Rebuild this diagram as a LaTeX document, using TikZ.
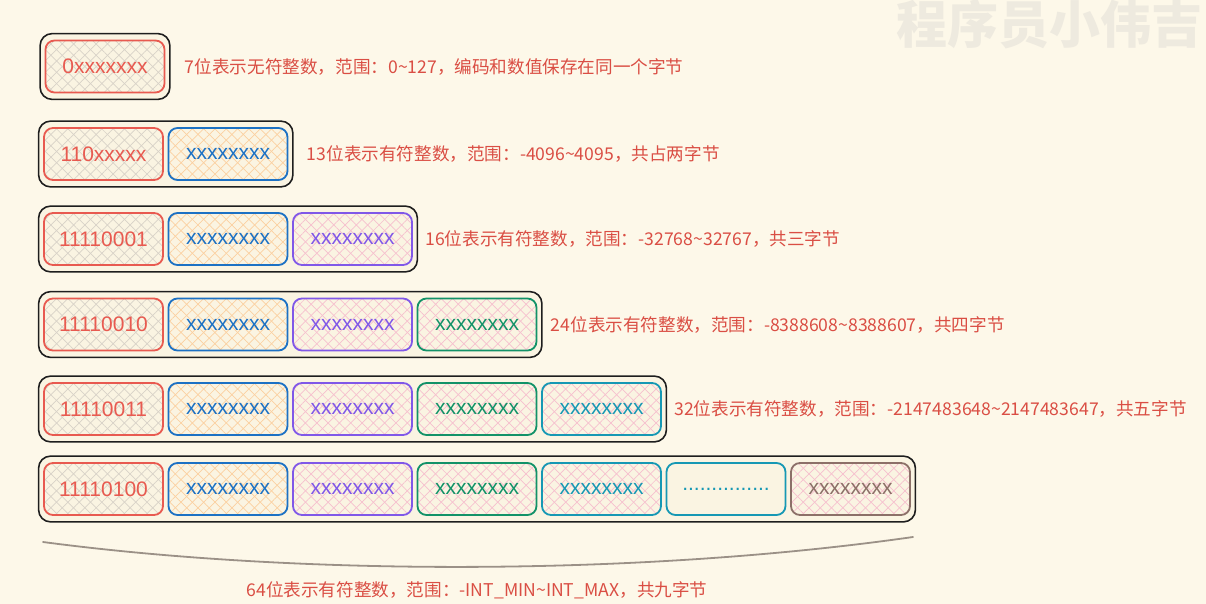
\documentclass[tikz,border=0pt]{standalone}
\usepackage{fontspec}
\setmainfont{Liberation Sans}
\newfontfamily\cjk{Noto Sans CJK SC}
\usepackage{tikz}
\usetikzlibrary{positioning, fit, backgrounds, patterns.meta}
\definecolor{paper}{RGB}{253,248,233}
\definecolor{shellfill}{RGB}{250,244,226}
\definecolor{base03}{RGB}{30,30,30}
\definecolor{red}{RGB}{232,90,80}
\definecolor{blue}{RGB}{28,113,196}
\definecolor{violet}{RGB}{128,88,232}
\definecolor{green}{RGB}{18,146,104}
\definecolor{cyan}{RGB}{22,152,180}
\definecolor{brown}{RGB}{140,112,104}
\definecolor{notered}{RGB}{218,78,68}
\definecolor{hgrey}{RGB}{216,210,200}
\definecolor{horange}{RGB}{250,208,160}
\definecolor{hpink}{RGB}{246,192,206}
\definecolor{mark}{RGB}{238,234,223}
\definecolor{curve}{RGB}{155,145,135}

\begin{document}
\begin{tikzpicture}[x=1pt, y=-1pt,
    byte/.style={draw=#1, text=#1, line width=1.8pt, rounded corners=9pt,
        minimum width=119pt, minimum height=52pt, inner sep=0pt,
        font=\fontsize{21}{21}\selectfont},
    hatch/.style={
        preaction={pattern={Lines[angle=45,distance=8pt,line width=.7pt]}, pattern color=#1},
        preaction={pattern={Lines[angle=-45,distance=8pt,line width=.7pt]}, pattern color=#1}},
    shell/.style={draw=base03, fill=shellfill, line width=1.6pt, rounded corners=12pt,
        inner xsep=4.5pt, inner ysep=6pt},
    note/.style={text=notered, inner sep=0pt, font=\cjk\fontsize{17.6}{17.6}\selectfont},
    node distance=3.7pt]
    \useasboundingbox (0,0) rectangle (1206,604);
    \begin{scope}[on background layer]
        \fill[paper] (0,0) rectangle (1206,604);
    \end{scope}
    \node[anchor=east, inner sep=0pt, text=mark, font=\cjk\bfseries\fontsize{51}{51}\selectfont] (wm) at (1203,24) {程序员小伟吉};

    \node[byte=red, hatch=hgrey] (b1a) at (105,66.5) {0xxxxxxx};

    \node[byte=red, hatch=hgrey] (b2a) at (103.5,154) {110xxxxx};
    \node[byte=blue, hatch=horange, right=of b2a] (b2b) {xxxxxxxx};

    \node[byte=red, hatch=hgrey] (b3a) at (103.5,239) {11110001};
    \node[byte=blue, hatch=horange, right=of b3a] (b3b) {xxxxxxxx};
    \node[byte=violet, hatch=hpink, right=of b3b] (b3c) {xxxxxxxx};

    \node[byte=red, hatch=hgrey] (b4a) at (103.5,324.5) {11110010};
    \node[byte=blue, hatch=horange, right=of b4a] (b4b) {xxxxxxxx};
    \node[byte=violet, hatch=hpink, right=of b4b] (b4c) {xxxxxxxx};
    \node[byte=green, hatch=hpink, right=of b4c] (b4d) {xxxxxxxx};

    \node[byte=red, hatch=hgrey] (b5a) at (103.5,409) {11110011};
    \node[byte=blue, hatch=horange, right=of b5a] (b5b) {xxxxxxxx};
    \node[byte=violet, hatch=hpink, right=of b5b] (b5c) {xxxxxxxx};
    \node[byte=green, hatch=hpink, right=of b5c] (b5d) {xxxxxxxx};
    \node[byte=cyan, hatch=hpink, right=of b5d] (b5e) {xxxxxxxx};

    \node[byte=red, hatch=hgrey] (b6a) at (103.5,489) {11110100};
    \node[byte=blue, hatch=horange, right=of b6a] (b6b) {xxxxxxxx};
    \node[byte=violet, hatch=hpink, right=of b6b] (b6c) {xxxxxxxx};
    \node[byte=green, hatch=hpink, right=of b6c] (b6d) {xxxxxxxx};
    \node[byte=cyan, hatch=hpink, right=of b6d] (b6e) {xxxxxxxx};
    \node[byte=cyan, right=of b6e] (b6f) {...............};
    \node[byte=brown, hatch=hpink, right=of b6f] (b6g) {xxxxxxxx};

    \begin{scope}[on background layer]
        \node[shell, fit=(b1a)] (row1) {};
        \node[shell, fit=(b2a)(b2b)] (row2) {};
        \node[shell, fit=(b3a)(b3c)] (row3) {};
        \node[shell, fit=(b4a)(b4d)] (row4) {};
        \node[shell, fit=(b5a)(b5e)] (row5) {};
        \node[shell, fit=(b6a)(b6g)] (row6) {};
    \end{scope}

    \node[note, right=14pt of row1] (n1) {7位表示无符整数，范围：0\textasciitilde127，编码和数值保存在同一个字节};
    \node[note, right=13pt of row2] (n2) {13位表示有符整数，范围：-4096\textasciitilde4095，共占两字节};
    \node[note, right=7pt of row3] (n3) {16位表示有符整数，范围：-32768\textasciitilde32767，共三字节};
    \node[note, right=8pt of row4] (n4) {24位表示有符整数，范围：-8388608\textasciitilde8388607，共四字节};
    \node[note, right=7pt of row5] (n5) {32位表示有符整数，范围：-2147483648\textasciitilde2147483647，共五字节};

    \coordinate (brL) at (43,542);
    \coordinate (brR) at (913,537);
    \draw[curve, line width=1.8pt, line cap=round] (brL) .. controls (300,576) and (640,576) .. (brR);
    \node[note] (n6) at (477,590) {64位表示有符整数，范围：-INT\_MIN\textasciitilde INT\_MAX，共九字节};
\end{tikzpicture}
\end{document}
